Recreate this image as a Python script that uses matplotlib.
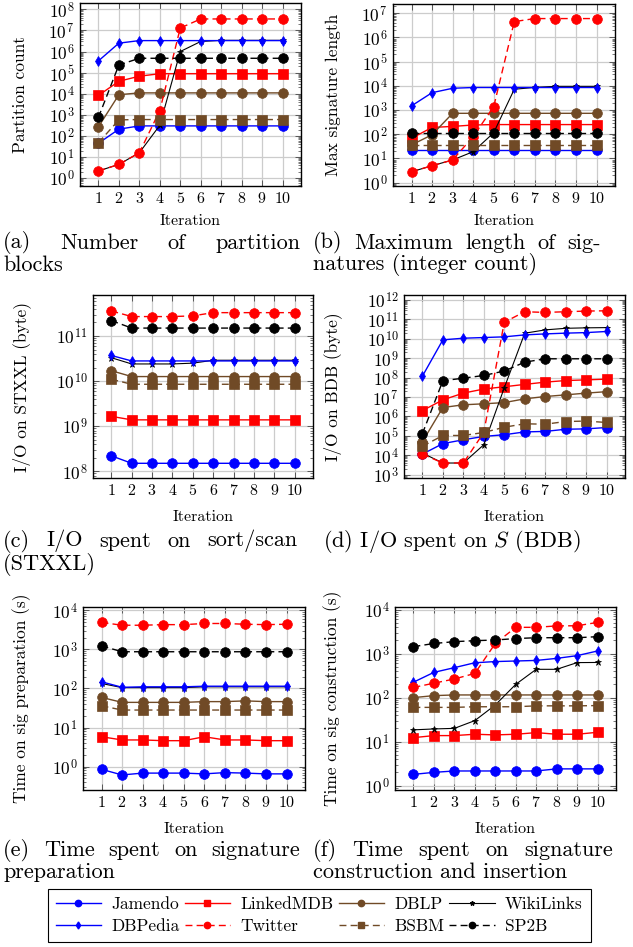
import matplotlib
matplotlib.use("Agg")
import matplotlib.pyplot as plt
from matplotlib.ticker import LogLocator, LogFormatterMathtext, NullFormatter
from matplotlib.lines import Line2D

plt.rcParams['font.family'] = 'cmr10'
plt.rcParams['mathtext.fontset'] = 'cm'
plt.rcParams['axes.formatter.use_mathtext'] = True

iterations = [1, 2, 3, 4, 5, 6, 7, 8, 9, 10]
datasets = ['Jamendo', 'LinkedMDB', 'DBLP', 'WikiLinks', 'DBPedia', 'Twitter', 'BSBM', 'SP2B']

partition_count = {
    'Jamendo':   [45, 210, 300, 300, 300, 300, 300, 300, 300, 300],
    'LinkedMDB': [8300, 39000, 68000, 89000, 89000, 89000, 89000, 89000, 89000, 89000],
    'DBLP':      [270, 9000, 11000, 11000, 11000, 11000, 11000, 11000, 11000, 11000],
    'WikiLinks': [2.2, 4.5, 16, 320, 1.0e6, 3.0e6, 3.4e6, 3.4e6, 3.4e6, 3.4e6],
    'DBPedia':   [3.6e5, 2.5e6, 3.3e6, 3.3e6, 3.3e6, 3.3e6, 3.3e6, 3.3e6, 3.3e6, 3.3e6],
    'Twitter':   [2.2, 4.5, 16, 1600, 1.3e7, 3.5e7, 3.5e7, 3.5e7, 3.5e7, 3.5e7],
    'BSBM':      [48, 580, 600, 600, 600, 600, 600, 600, 600, 600],
    'SP2B':      [760, 2.3e5, 4.8e5, 4.8e5, 4.8e5, 4.8e5, 4.8e5, 4.8e5, 4.8e5, 4.8e5],
}

max_sig_length = {
    'Jamendo':   [22, 22, 22, 22, 22, 22, 22, 22, 22, 22],
    'LinkedMDB': [68, 190, 210, 240, 250, 250, 250, 250, 250, 250],
    'DBLP':      [36, 95, 730, 730, 730, 730, 730, 730, 730, 730],
    'WikiLinks': [2.8, 5, 8.6, 19, 115, 7200, 8600, 9500, 9500, 9500],
    'DBPedia':   [1480, 5200, 7900, 8500, 8500, 8500, 8500, 8500, 8500, 8500],
    'Twitter':   [2.8, 5, 8.6, 80, 1380, 4.5e6, 6.0e6, 6.0e6, 6.0e6, 6.0e6],
    'BSBM':      [35, 35, 35, 35, 35, 35, 35, 35, 35, 35],
    'SP2B':      [112, 112, 112, 112, 112, 112, 112, 112, 112, 112],
}

io_stxxl = {
    'Jamendo':   [2.2e8, 1.5e8, 1.5e8, 1.5e8, 1.5e8, 1.5e8, 1.5e8, 1.5e8, 1.5e8, 1.5e8],
    'LinkedMDB': [1.65e9, 1.38e9, 1.38e9, 1.38e9, 1.38e9, 1.38e9, 1.38e9, 1.38e9, 1.38e9, 1.38e9],
    'DBLP':      [1.7e10, 1.26e10, 1.26e10, 1.26e10, 1.26e10, 1.26e10, 1.26e10, 1.26e10, 1.26e10, 1.26e10],
    'WikiLinks': [3.3e10, 2.4e10, 2.4e10, 2.4e10, 2.5e10, 2.9e10, 2.9e10, 2.9e10, 2.9e10, 2.9e10],
    'DBPedia':   [3.7e10, 2.8e10, 2.8e10, 2.8e10, 2.8e10, 2.8e10, 2.8e10, 2.8e10, 2.8e10, 2.8e10],
    'Twitter':   [3.6e11, 2.7e11, 2.7e11, 2.7e11, 2.8e11, 3.3e11, 3.3e11, 3.3e11, 3.3e11, 3.3e11],
    'BSBM':      [1.1e10, 8.5e9, 8.5e9, 8.5e9, 8.5e9, 8.5e9, 8.5e9, 8.5e9, 8.5e9, 8.5e9],
    'SP2B':      [2.2e11, 1.5e11, 1.5e11, 1.5e11, 1.5e11, 1.5e11, 1.5e11, 1.5e11, 1.5e11, 1.5e11],
}

io_bdb = {
    'Jamendo':   [1.15e4, 4e4, 6.3e4, 9.4e4, 1.15e5, 1.6e5, 1.7e5, 2.2e5, 2.3e5, 2.7e5],
    'LinkedMDB': [2e6, 7.2e6, 1.6e7, 2.6e7, 3.4e7, 4.5e7, 5.9e7, 7.1e7, 7.7e7, 8.4e7],
    'DBLP':      [5e4, 2.9e6, 4e6, 4.5e6, 5.2e6, 8.1e6, 1.07e7, 1.3e7, 1.6e7, 1.9e7],
    'WikiLinks': [1.3e4, 4e3, 4e3, 3.5e4, 3e7, 1.95e10, 2.9e10, 3.5e10, 3.7e10, 3.8e10],
    'DBPedia':   [1.2e8, 8.9e9, 1.08e10, 1.17e10, 1.27e10, 1.6e10, 1.8e10, 1.97e10, 2.1e10, 2.4e10],
    'Twitter':   [1.15e4, 4e3, 4e3, 1.5e5, 7.2e10, 2.5e11, 2.3e11, 2.5e11, 2.7e11, 2.8e11],
    'BSBM':      [2.9e4, 1.05e5, 1.05e5, 1.5e5, 2.8e5, 4.2e5, 4e5, 5.5e5, 5.8e5, 4.9e5],
    'SP2B':      [1.3e5, 7e7, 9.4e7, 1.3e8, 2.2e8, 6.3e8, 9.4e8, 9.4e8, 9.4e8, 9.4e8],
}

time_sig_prep = {
    'Jamendo':   [0.85, 0.61, 0.68, 0.68, 0.68, 0.65, 0.70, 0.68, 0.65, 0.65],
    'LinkedMDB': [5.8, 4.8, 4.8, 4.6, 4.6, 5.8, 4.8, 4.8, 4.6, 4.6],
    'DBLP':      [59, 44, 44, 44, 44, 46, 46, 48, 46, 46],
    'WikiLinks': [134, 105, 105, 105, 105, 110, 110, 110, 110, 110],
    'DBPedia':   [148, 107, 110, 110, 110, 114, 114, 114, 114, 114],
    'Twitter':   [4900, 4150, 4150, 4300, 4300, 4600, 4600, 4400, 4300, 4400],
    'BSBM':      [36, 28, 28, 28, 28, 28, 28, 28, 28, 28],
    'SP2B':      [1230, 870, 870, 870, 870, 870, 870, 870, 870, 870],
}

time_sig_constr = {
    'Jamendo':   [1.8, 2.0, 2.15, 2.15, 2.15, 2.15, 2.15, 2.4, 2.4, 2.4],
    'LinkedMDB': [12.3, 13.7, 13.7, 14.7, 14.2, 14.7, 16, 14.7, 14.7, 16.3],
    'DBLP':      [100, 111, 115, 115, 115, 115, 115, 115, 115, 115],
    'WikiLinks': [18.5, 19.4, 20, 30, 68, 200, 440, 440, 625, 630],
    'DBPedia':   [224, 375, 480, 620, 660, 680, 700, 780, 900, 1150],
    'Twitter':   [170, 213, 265, 355, 1700, 3960, 3960, 4270, 4300, 5130],
    'BSBM':      [60, 60, 60, 62, 62, 62, 65, 65, 65, 66],
    'SP2B':      [1440, 1700, 1870, 1970, 2040, 2200, 2300, 2300, 2300, 2430],
}

brown = '#704a26'
styles = {
    'Jamendo':   dict(color='blue', marker='o', ls='-', ms=7),
    'LinkedMDB': dict(color='red', marker='s', ls='-', ms=6.5),
    'DBLP':      dict(color=brown, marker='o', ls='-', ms=7),
    'WikiLinks': dict(color='black', marker='*', ls='-', ms=5, lw=0.8),
    'DBPedia':   dict(color='blue', marker='d', ls='-', ms=5.5),
    'Twitter':   dict(color='red', marker='o', ls=(0, (5, 3)), ms=7),
    'BSBM':      dict(color=brown, marker='s', ls=(0, (5, 3)), ms=6.5),
    'SP2B':      dict(color='black', marker='o', ls=(0, (5, 3)), ms=7),
}

W, H = 633, 947
fig = plt.figure(figsize=(W / 100, H / 100), dpi=100)


def rect(x0, y0, x1, y1):
    return [x0 / W, 1 - y1 / H, (x1 - x0) / W, (y1 - y0) / H]


panels = [
    (partition_count, 'Partition count', (80, 3, 301, 186), (10**-0.37, 10**8.3), 20, 221),
    (max_sig_length, 'Max signature length', (393, 4, 615, 186), (10**-0.14, 10**7.38), 333, 221),
    (io_stxxl, 'I/O on STXXL (byte)', (93, 295, 313, 478), (10**7.85, 10**11.91), 22, 517),
    (io_bdb, 'I/O on BDB (byte)', (404, 295, 625, 478), (10**2.83, 10**12.26), 333, 517),
    (time_sig_prep, 'Time on sig preparation (s)', (83, 607, 305, 790), (10**-0.6, 10**4.085), 22, 829),
    (time_sig_constr, 'Time on sig construction (s)', (395, 607, 616, 790), (10**-0.1, 10**4.06), 333, 829),
]

for data, ylabel, box, ylim, ylab_x, xlab_y in panels:
    x0, y0, x1, y1 = box
    ax = fig.add_axes(rect(x0, y0, x1, y1))
    ax.set_yscale('log')
    for name in datasets:
        st = dict(styles[name])
        lw = st.pop('lw', 1.0)
        ax.plot(iterations, data[name], lw=lw, markeredgewidth=0.5,
                markeredgecolor=st['color'], **st)
    ax.set_xlim(0.1, 10.9)
    ax.set_ylim(*ylim)
    ax.set_xticks(iterations)
    ax.yaxis.set_major_locator(LogLocator(base=10, numticks=30))
    ax.yaxis.set_minor_locator(LogLocator(base=10, subs=range(2, 10), numticks=30))
    ax.yaxis.set_major_formatter(LogFormatterMathtext())
    ax.yaxis.set_minor_formatter(NullFormatter())
    ax.tick_params(which='both', direction='in', top=True, right=True, color='#444444')
    ax.tick_params(which='major', length=4, width=0.6)
    ax.tick_params(axis='x', labelsize=11.5)
    ax.tick_params(axis='y', labelsize=12.5, pad=4)
    ax.tick_params(which='minor', length=2, width=0.5)
    ax.grid(True, which='major', color='#cccccc', lw=0.9)
    ax.set_axisbelow(True)
    for sp in ax.spines.values():
        sp.set_linewidth(1.0)
    ax.set_ylabel(ylabel, fontsize=12.5)
    ax.yaxis.label.set_va('center')
    ax.yaxis.set_label_coords((ylab_x - x0) / (x1 - x0), 0.5)
    ax.set_xlabel('Iteration', fontsize=11.5)
    ax.xaxis.label.set_va('center')
    ax.xaxis.set_label_coords(0.5, -(xlab_y - y1) / (y1 - y0))

renderer = fig.canvas.get_renderer()
cap_size = 16


def justified(words, x0, x1, y):
    texts = [fig.text(0, 0, w, fontsize=cap_size, va='center') for w in words]
    widths = [t.get_window_extent(renderer).width for t in texts]
    gap = max((x1 - x0 - sum(widths)) / (len(words) - 1), 6)
    x = x0
    for t, w in zip(texts, widths):
        t.set_position((x / W, 1 - y / H))
        x += w + gap


def plain(s, x, y):
    fig.text(x / W, 1 - y / H, s, fontsize=cap_size, va='center')


justified(['(a)', 'Number', 'of', 'partition'], 3, 300, 243)
plain('blocks', 3, 265)
justified(['(b)', 'Maximum', 'length', 'of', 'sig-'], 313, 601, 243)
plain('natures (integer count)', 313, 265)
justified(['(c)', 'I/O', 'spent', 'on', 'sort/scan'], 3, 297, 541)
plain('(STXXL)', 3, 564)
plain('(d) I/O spent on $S$ (BDB)', 323, 541)
justified(['(e)', 'Time', 'spent', 'on', 'signature'], 3, 300, 850)
plain('preparation', 3, 872)
justified(['(f)', 'Time', 'spent', 'on', 'signature'], 313, 613, 850)
plain('construction and insertion', 313, 872)

handles = {}
for name in datasets:
    st = dict(styles[name])
    lw = st.pop('lw', 1.0)
    st['ms'] = st['ms'] * 0.65
    handles[name] = Line2D([], [], lw=lw, **st)
order = ['Jamendo', 'DBPedia', 'LinkedMDB', 'Twitter', 'DBLP', 'BSBM', 'WikiLinks', 'SP2B']
leg = fig.legend([handles[n] for n in order], order, ncol=4, loc='upper left',
                 bbox_to_anchor=(48 / W, 1 - 889 / H), fontsize=12.5, frameon=True,
                 fancybox=False, edgecolor='black', framealpha=1, handlelength=2.6,
                 handletextpad=0.6, columnspacing=0.3, borderpad=0.45, labelspacing=0.4,
                 borderaxespad=0)
leg.get_frame().set_linewidth(0.8)

fig.savefig('out.png', dpi=100)
